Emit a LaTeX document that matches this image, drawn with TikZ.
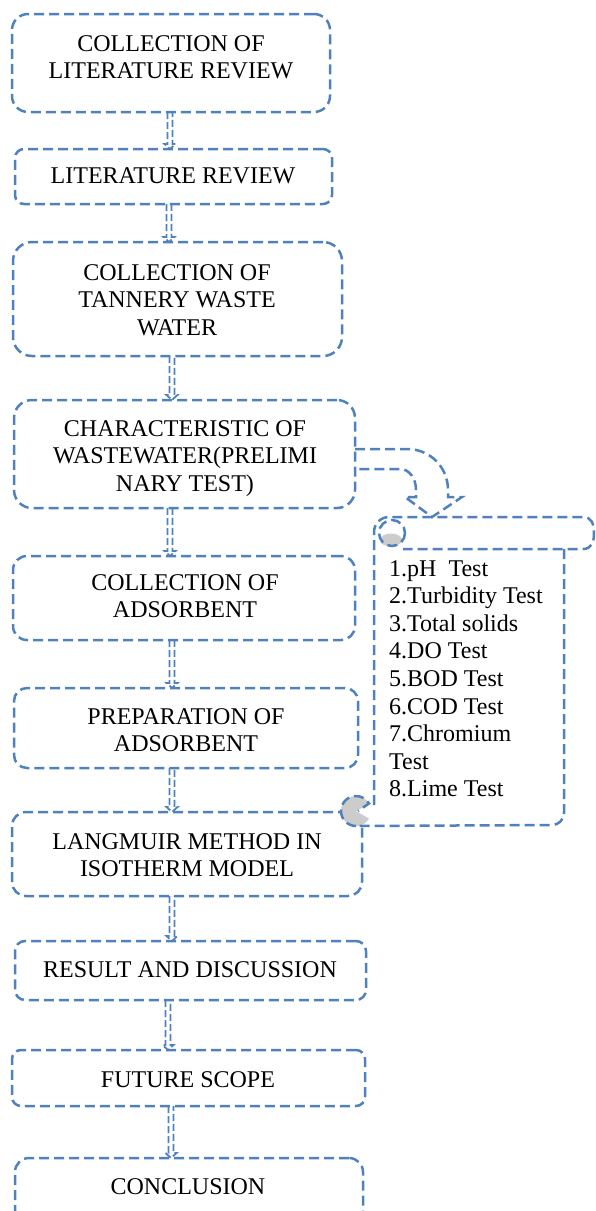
\documentclass[tikz,border=0pt]{standalone}
\usepackage{fontspec}
\setmainfont{Liberation Serif}
\usetikzlibrary{calc}
\definecolor{bl}{HTML}{4F81BD}
\definecolor{curlgray}{RGB}{204,204,204}
\newcommand{\blockarrow}[3]{%
  \coordinate (ax) at (#3,0);
  \draw[conn] ($(#1.south -| ax)+(-2.5,0)$) -- ($(#2.north -| ax)+(-2.5,-5)$)
    -- ($(#2.north -| ax)+(-5.5,-5)$) -- (#2.north -| ax)
    -- ($(#2.north -| ax)+(5.5,-5)$) -- ($(#2.north -| ax)+(2.5,-5)$)
    -- ($(#1.south -| ax)+(2.5,0)$);}
\begin{document}
\begin{tikzpicture}[x=1pt,y=-1pt,
  box/.style={draw=bl, line width=2.5pt, dash pattern=on 10pt off 5pt, inner sep=0pt, outer sep=0pt},
  conn/.style={draw=bl, line width=1.8pt, dash pattern=on 7pt off 3pt, line join=miter},
  outline/.style={draw=bl, line width=2.5pt, dash pattern=on 10pt off 5pt},
  txt/.style={font=\fontsize{24}{27.6}\selectfont, inner sep=0pt, align=center, anchor=north},
]
\useasboundingbox (0,0) rectangle (595,1211);
\clip (0,0) rectangle (595,1211);

% boxes
\node[box, minimum width=318pt, minimum height=98pt, rounded corners=16pt] (b1) at (171,63) {};
\node[box, minimum width=317pt, minimum height=55pt, rounded corners=9pt] (b2) at (173.5,176.5) {};
\node[box, minimum width=329pt, minimum height=114pt, rounded corners=19pt] (b3) at (177.5,299) {};
\node[box, minimum width=341pt, minimum height=108pt, rounded corners=18pt] (b4) at (184.5,454) {};
\node[box, minimum width=342pt, minimum height=84pt, rounded corners=14pt] (b5) at (184,598) {};
\node[box, minimum width=344pt, minimum height=80pt, rounded corners=13pt] (b6) at (186,728) {};
\node[box, minimum width=350pt, minimum height=84pt, rounded corners=14pt] (b7) at (187,854) {};
\node[box, minimum width=351pt, minimum height=59pt, rounded corners=10pt] (b8) at (190.5,970.5) {};
\node[box, minimum width=353pt, minimum height=56pt, rounded corners=9pt] (b9) at (188.5,1078) {};
\node[box, minimum width=348pt, minimum height=82pt, rounded corners=14pt] (b10) at (189,1199) {};

% texts
\node[txt] (t1) at (171,35) {COLLECTION OF\\LITERATURE REVIEW};
\node[txt] (t2) at (173,167) {LITERATURE REVIEW};
\node[txt] (t3) at (177,264) {COLLECTION OF\\TANNERY WASTE\\WATER};
\node[txt] (t4) at (185,420) {CHARACTERISTIC OF\\WASTEWATER(PRELIMI\\NARY TEST)};
\node[txt] (t5) at (185,574) {COLLECTION OF\\ADSORBENT};
\node[txt] (t6) at (186,708) {PREPARATION OF\\ADSORBENT};
\node[txt] (t7) at (187,833) {LANGMUIR METHOD IN\\ISOTHERM MODEL};
\node[txt] (t8) at (190,961) {RESULT AND DISCUSSION};
\node[txt] (t9) at (188,1071) {FUTURE SCOPE};
\node[txt] (t10) at (188,1178) {CONCLUSION};

% connectors
\blockarrow{b1}{b2}{170}
\blockarrow{b2}{b3}{169}
\blockarrow{b3}{b4}{172}
\blockarrow{b4}{b5}{170}
\blockarrow{b5}{b6}{172}
\blockarrow{b6}{b7}{172}
\blockarrow{b7}{b8}{172}
\blockarrow{b8}{b9}{168}
\blockarrow{b9}{b10}{171}

% scroll
\coordinate (scrolltop) at (432,517);
\fill[curlgray] (356,811) circle[radius=15];
\fill[white] (356,811) -- (372,803) -- (372,820) -- cycle;
\draw[outline] (356,826) arc[start angle=90, end angle=330, radius=15] -- (358,811);
\draw[outline] (374,805) -- (374,532) arc[start angle=180, end angle=270, radius=15]
  -- (583,517) .. controls (591,517) and (594,523) .. (594,533)
  .. controls (594,543) and (591,549) .. (583,549) -- (403,549);
\draw[outline] (564,549) -- (564,813) arc[start angle=0, end angle=90, radius=12] -- (356,826);
\fill[curlgray] (391,540) ellipse[x radius=11, y radius=6.5];
\draw[outline] (392,533) circle[radius=13];
\node[font=\fontsize{24}{27.6}\selectfont, align=left, anchor=north west, inner sep=0pt] (tests) at (389,560)
  {1.pH~ Test\\2.Turbidity Test\\3.Total solids\\4.DO Test\\5.BOD Test\\6.COD Test\\7.Chromium\\Test\\8.Lime Test};

% curved arrow
\draw[outline] ($(b4.east)+(0,-5)$) -- (407,449) .. controls (430,449) and (448,467) .. (448,490)
  -- (448,497) -- (462,497) -- (scrolltop) -- (405,497) -- (416,497) -- (416,490)
  .. controls (416,478) and (409,469) .. (400,469) -- ($(b4.east)+(0,15)$);
\end{tikzpicture}
\end{document}
